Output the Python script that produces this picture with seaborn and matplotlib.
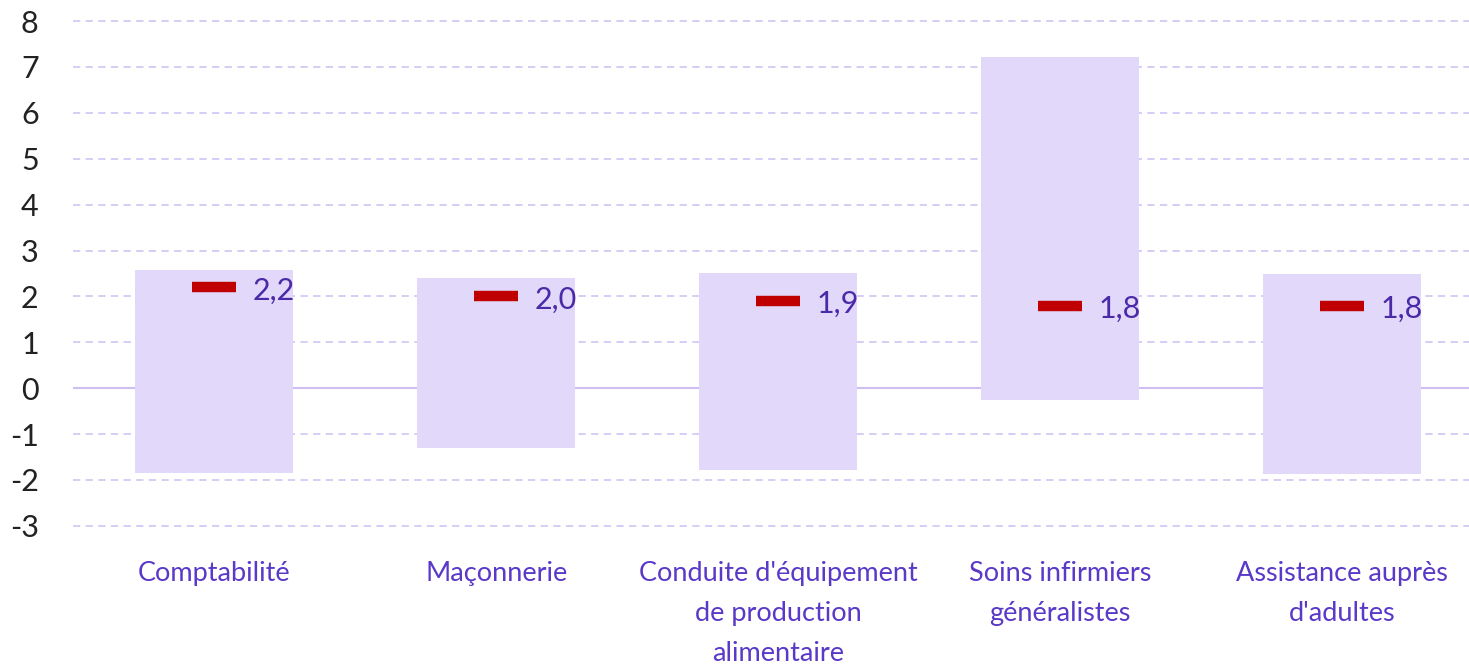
import pandas as pd
import seaborn as sns
import matplotlib.pyplot as plt

categories = [
    "Comptabilité",
    "Maçonnerie",
    "Conduite d'équipement\nde production\nalimentaire",
    "Soins infirmiers\ngénéralistes",
    "Assistance auprès\nd'adultes",
]
range_low = [-1.84, -1.31, -1.79, -0.26, -1.88]
range_high = [2.58, 2.41, 2.52, 7.22, 2.49]
values = [2.2, 2.0, 1.9, 1.8, 1.8]
value_labels = ["2,2", "2,0", "1,9", "1,8", "1,8"]
yticks = list(range(-3, 9))

df = pd.DataFrame({
    "cat": categories,
    "low": range_low,
    "high": range_high,
    "val": values,
})
df["span"] = df["high"] - df["low"]

sns.set_style("white")
plt.rcParams["font.family"] = ["Lato", "DejaVu Sans"]

fig, ax = plt.subplots(figsize=(14.69, 6.65), dpi=100)
fig.subplots_adjust(left=0.05, right=1.0, top=1.0, bottom=0.19)

#grid first
for t in yticks:
    if t == 0:
        ax.axhline(0, color="#cdbff2", lw=1.5, zorder=1)
    else:
        ax.axhline(t, color="#d3c8f5", lw=1.3, ls=(0, (4, 3)), zorder=1)

#floating range bars
sns.barplot(data=df, x="cat", y="span", color="#e2d8f9", width=0.56,
            saturation=1, ax=ax, zorder=2, edgecolor="none")
for p, lo in zip(ax.patches, df["low"]):
    p.set_y(lo)

#red marker for the value
sns.scatterplot(data=df, x="cat", y="val", marker="_", s=1000,
                color="#c00000", linewidth=7.5, ax=ax, zorder=3)

for i, (v, lab) in enumerate(zip(values, value_labels)):
    ax.text(i + 0.135, v - 0.07, lab, ha="left", va="center",
            fontsize=22, color="#4a2aa8", zorder=4)

ax.set_xlim(-0.5, 4.45)
ax.set_ylim(-3.28, 8.46)
ax.set_yticks(yticks)
ax.set_yticklabels([str(t) for t in yticks], fontsize=22, color="#222222")
ax.tick_params(axis="y", length=0, pad=25)
ax.tick_params(axis="x", length=0, pad=16)
ax.set_xticks(range(len(categories)))
ax.set_xticklabels(categories, fontsize=19.5, color="#5a38c8",
                   linespacing=1.75, va="top")
ax.set_xlabel("")
ax.set_ylabel("")
for s in ax.spines.values():
    s.set_visible(False)

fig.savefig("out.png", dpi=100)
